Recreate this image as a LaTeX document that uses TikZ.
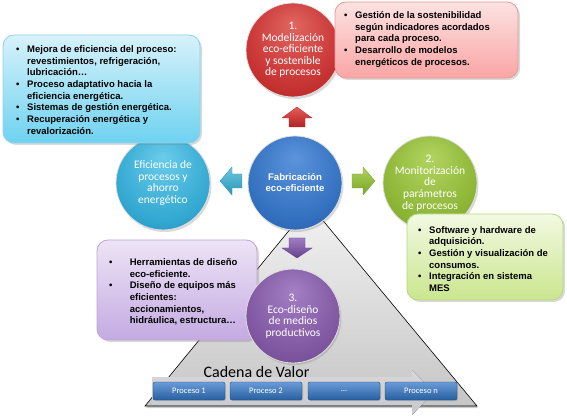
\documentclass[tikz,border=0pt]{standalone}
\usepackage{fontspec}
\setmainfont{Liberation Sans}
\newfontfamily\calib{Carlito}
\usetikzlibrary{shadows}
\pgfdeclareradialshading{shred}{\pgfpoint{0bp}{14bp}}{rgb(0bp)=(0.88,0.40,0.38);rgb(26bp)=(0.78,0.20,0.20);rgb(42bp)=(0.66,0.12,0.12);rgb(50bp)=(0.56,0.08,0.08)}
\pgfdeclareradialshading{shteal}{\pgfpoint{0bp}{14bp}}{rgb(0bp)=(0.42,0.80,0.92);rgb(26bp)=(0.20,0.66,0.82);rgb(42bp)=(0.12,0.54,0.70);rgb(50bp)=(0.08,0.45,0.60)}
\pgfdeclareradialshading{shblue}{\pgfpoint{0bp}{14bp}}{rgb(0bp)=(0.36,0.58,0.86);rgb(26bp)=(0.20,0.44,0.75);rgb(42bp)=(0.14,0.33,0.62);rgb(50bp)=(0.09,0.25,0.52)}
\pgfdeclareradialshading{shgreen}{\pgfpoint{0bp}{14bp}}{rgb(0bp)=(0.70,0.83,0.38);rgb(26bp)=(0.55,0.71,0.21);rgb(42bp)=(0.44,0.59,0.14);rgb(50bp)=(0.36,0.49,0.09)}
\pgfdeclareradialshading{shpurple}{\pgfpoint{0bp}{14bp}}{rgb(0bp)=(0.64,0.50,0.77);rgb(26bp)=(0.50,0.34,0.63);rgb(42bp)=(0.39,0.25,0.52);rgb(50bp)=(0.31,0.18,0.43)}
\definecolor{redA}{RGB}{232,90,88}
\definecolor{redB}{RGB}{178,36,36}
\definecolor{tealA}{RGB}{110,200,225}
\definecolor{tealB}{RGB}{40,150,185}
\definecolor{greenA}{RGB}{175,210,90}
\definecolor{greenB}{RGB}{120,165,40}
\definecolor{purpA}{RGB}{160,125,195}
\definecolor{purpB}{RGB}{100,65,140}
\definecolor{procA}{RGB}{105,155,215}
\definecolor{procB}{RGB}{40,95,160}
\definecolor{rboxA}{RGB}{252,226,226}
\definecolor{rboxB}{RGB}{250,165,165}
\definecolor{rboxC}{RGB}{235,150,150}
\definecolor{tboxA}{RGB}{215,242,250}
\definecolor{tboxB}{RGB}{110,210,240}
\definecolor{tboxC}{RGB}{140,210,235}
\definecolor{gboxA}{RGB}{242,249,226}
\definecolor{gboxB}{RGB}{202,230,142}
\definecolor{gboxC}{RGB}{185,215,130}
\definecolor{pboxA}{RGB}{237,228,246}
\definecolor{pboxB}{RGB}{196,170,226}
\definecolor{pboxC}{RGB}{190,165,215}
\newcommand{\bl}[1][11pt]{\makebox[#1][l]{\textbullet}}
\newcommand{\ind}[1][11pt]{\hspace*{#1}}
\begin{document}
\begin{tikzpicture}[x=1pt,y=-1pt,
  circ/.style={circle, minimum size=94pt, inner sep=0pt, draw=white!75!gray, line width=0.8pt,
     text=white, font=\calib\fontsize{11.5}{11.6}\selectfont, align=center,
     drop shadow={shadow xshift=1.5pt, shadow yshift=-2pt, opacity=0.3}},
  infobox/.style={rounded corners=11pt, line width=0.8pt, inner sep=0pt,
     drop shadow={shadow xshift=2pt, shadow yshift=-2pt, opacity=0.3}},
  boxtext/.style={inner sep=0pt, anchor=west, align=left, font=\bfseries\fontsize{9.5}{11.7}\selectfont},
  proc/.style={rounded corners=2pt, top color=procA, bottom color=procB, draw=procB!80!black, line width=0.4pt,
     minimum width=72pt, minimum height=18pt, inner sep=0pt, text=white, font=\calib\fontsize{8.5}{10}\selectfont,
     drop shadow={shadow xshift=1pt, shadow yshift=-1pt, opacity=0.3}},
  blockarrow/.style={line width=0.3pt}
]
\useasboundingbox (0,0) rectangle (567,419);

% triangle (value chain)
\draw[black, line width=0.6pt, top color=gray!10, bottom color=gray!45,
      drop shadow={shadow xshift=1pt, shadow yshift=-2pt, opacity=0.4}]
  (310,205) -- (477,406) -- (145,406) -- cycle;

% big light arrow behind processes
\fill[top color=blue!6!gray!12, bottom color=blue!12!gray!25, opacity=0.9]
  (152,377) -- (412,377) -- (412,370) -- (434,392) -- (412,415) -- (412,405) -- (152,405) -- cycle;

\node[font=\calib\fontsize{16}{18}\selectfont, anchor=base, inner sep=0pt] (cadena) at (256.5,377) {Cadena de Valor};

\node[proc] (p1) at (189,391) {Proceso 1};
\node[proc] (p2) at (266,391) {Proceso 2};
\node[proc] (p3) at (344,391) {…};
\node[proc] (pn) at (421,391) {Proceso n};

% circles
\node[circ, shading=shred] (modelo) at (293,50) {1.\\Modelización\\eco-eficiente\\y sostenible\\de procesos};
\node[circ, shading=shteal] (efic) at (163,183) {Eficiencia de\\procesos y\\ahorro\\energético};
\node[circ, shading=shgreen] (monit) at (430,183) {2.\\Monitorización\\de\\parámetros\\de procesos};

% boxes
\node[infobox, top color=rboxA, bottom color=rboxB, draw=rboxC, minimum width=183pt, minimum height=76pt] (rbox) at (426.5,40) {};
\node[boxtext] (rtext) at (344,39.5) {\bl Gestión de la sostenibilidad\\\ind según indicadores  acordados\\\ind para cada proceso.\\\bl Desarrollo de modelos\\\ind energéticos de procesos.};

\node[infobox, top color=tboxA, bottom color=tboxB, draw=tboxC, minimum width=197pt, minimum height=108pt] (tbox) at (101.5,89) {};
\node[boxtext] (ttext) at (16,90) {\bl Mejora de eficiencia del proceso:\\\ind revestimientos, refrigeración,\\\ind lubricación…\\\bl Proceso adaptativo hacia la\\\ind eficiencia energética.\\\bl Sistemas de gestión energética.\\\bl Recuperación energética y\\\ind revalorización.};

\node[infobox, top color=gboxA, bottom color=gboxB, draw=gboxC, minimum width=156pt, minimum height=86pt] (gbox) at (485,257) {};
\node[boxtext] (gtext) at (418,259) {\bl Software y hardware de\\\ind adquisición.\\\bl Gestión y visualización  de\\\ind consumos.\\\bl Integración  en sistema\\\ind MES};

\node[infobox, top color=pboxA, bottom color=pboxB, draw=pboxC, minimum width=160pt, minimum height=100pt] (pbox) at (177,290) {};
\node[boxtext] (ptext) at (109,292) {\bl[18pt] Herramientas de diseño\\\ind[18pt] eco-eficiente.\\\bl[18pt] Diseño de equipos más\\\ind[18pt] eficientes:\\\ind[18pt] accionamientos,\\\ind[18pt] hidráulica, estructura…};

\node[circ, shading=shpurple] (eco) at (293,316) {3.\\Eco-diseño\\de medios\\productivos};

% center circle
\node[circ, shading=shblue, font=\bfseries\fontsize{9.6}{11}\selectfont] (fab) at (295,183) {Fabricación\\eco-eficiente};

% block arrows
\draw[blockarrow, top color=redA, bottom color=redB, draw=redB] (297,107) -- (312,118) -- (305,118) -- (305,127) -- (289,127) -- (289,118) -- (282,118) -- cycle;
\draw[blockarrow, top color=tealA, bottom color=tealB, draw=tealB] (220,181) -- (232,167) -- (232,174) -- (242,174) -- (242,188) -- (232,188) -- (232,195) -- cycle;
\draw[blockarrow, top color=greenA, bottom color=greenB, draw=greenB] (375,181) -- (363,167) -- (363,174) -- (352,174) -- (352,188) -- (363,188) -- (363,195) -- cycle;
\draw[blockarrow, top color=purpA, bottom color=purpB, draw=purpB] (297,258) -- (312,248) -- (305,248) -- (305,238) -- (289,238) -- (289,248) -- (282,248) -- cycle;
\end{tikzpicture}
\end{document}
